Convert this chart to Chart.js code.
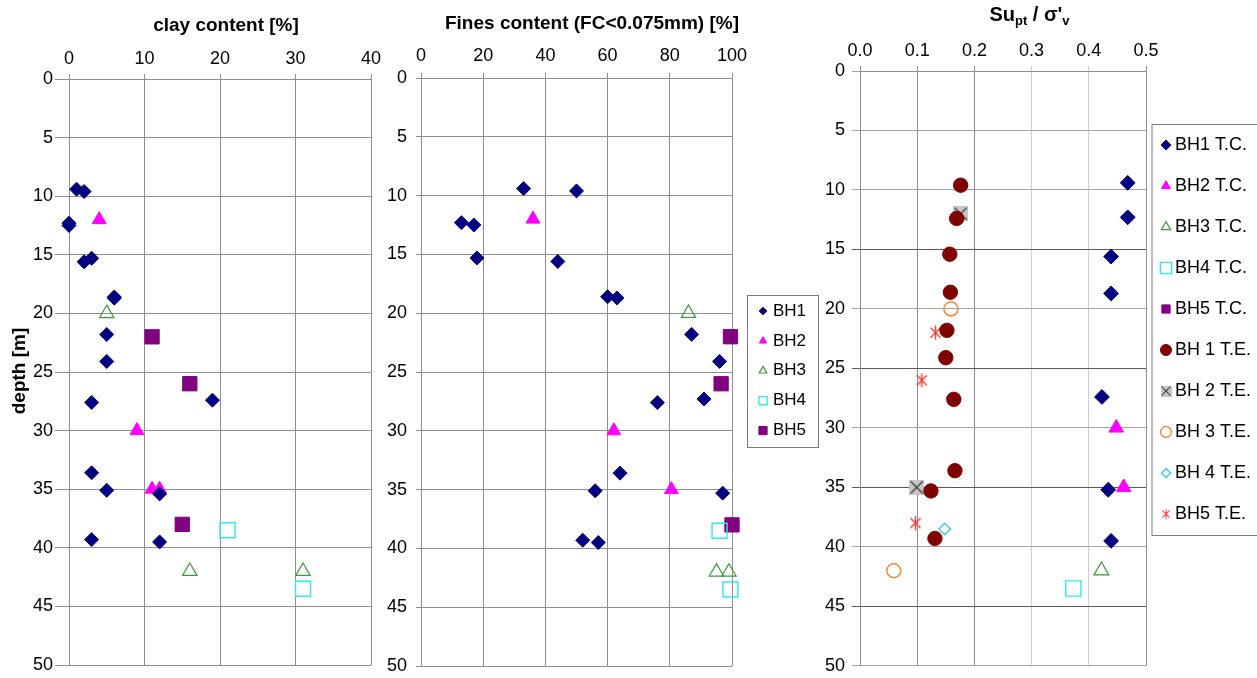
<!DOCTYPE html>
<html>
<head>
<meta charset="utf-8">
<title>Soil profiles with depth</title>
<script src="https://cdn.jsdelivr.net/npm/chart.js@4.4.1/dist/chart.umd.min.js"></script>
<style>
  html, body { margin: 0; padding: 0; background: #fff; }
  body { width: 1257px; height: 678px; position: relative; overflow: hidden; }
  canvas { position: absolute; top: 0; }
</style>
</head>
<body>
<canvas id="clay" width="400" height="678" style="left:0px"></canvas>
<canvas id="fines" width="460" height="678" style="left:375px"></canvas>
<canvas id="su" width="442" height="678" style="left:815px"></canvas>
<script>
// ---------- borehole data: value and depth [m] ----------
// clay content [%]
const clayBH1      = [1, 2, 0, 0, 2, 3, 6, 6, 5, 5, 3, 19, 3, 5, 12, 3, 12];
const clayBH1Depth = [9.4, 9.6, 12.3, 12.5, 15.6, 15.3, 18.6, 18.7, 21.8, 24.1, 27.6, 27.4, 33.6, 35.1, 35.4, 39.3, 39.5];
const clayBH2      = [4, 9, 11, 12];
const clayBH2Depth = [12, 30, 35, 35];
const clayBH3      = [5, 16, 31];
const clayBH3Depth = [20, 42, 42];
const clayBH4      = [21, 31];
const clayBH4Depth = [38.5, 43.5];
const clayBH5      = [11, 16, 15];
const clayBH5Depth = [22, 26, 38];

// fines content FC<0.075mm [%]
const finesBH1      = [33, 50, 13, 17, 18, 44, 60, 63, 87, 96, 76, 91, 64, 56, 97, 52, 57];
const finesBH1Depth = [9.4, 9.6, 12.3, 12.5, 15.3, 15.6, 18.6, 18.7, 21.8, 24.1, 27.6, 27.3, 33.6, 35.1, 35.3, 39.3, 39.5];
const finesBH2      = [36, 62, 80.5];
const finesBH2Depth = [12, 30, 35];
const finesBH3      = [86, 95, 99];
const finesBH3Depth = [20, 42, 42];
const finesBH4      = [96, 99.5];
const finesBH4Depth = [38.5, 43.5];
const finesBH5      = [99.5, 96.5, 100];
const finesBH5Depth = [22, 26, 38];

// normalised undrained strength Su_pt / sigma'_v
const suBH1TC      = [0.468, 0.468, 0.439, 0.439, 0.423, 0.434, 0.439];
const suBH1TCDepth = [9.4, 12.3, 15.6, 18.7, 27.4, 35.2, 39.5];
const suBH2TC      = [0.448, 0.461];
const suBH2TCDepth = [30, 35];
const suBH3TC      = [0.422];
const suBH3TCDepth = [42];
const suBH4TC      = [0.373];
const suBH4TCDepth = [43.5];
const suBH5TC      = [];
const suBH5TCDepth = [];
const suBH1TE      = [0.176, 0.169, 0.157, 0.158, 0.152, 0.150, 0.164, 0.166, 0.124, 0.131];
const suBH1TEDepth = [9.6, 12.4, 15.4, 18.6, 21.8, 24.1, 27.6, 33.6, 35.3, 39.3];
const suBH2TE      = [0.176, 0.099];
const suBH2TEDepth = [12, 35];
const suBH3TE      = [0.159, 0.059];
const suBH3TEDepth = [20, 42];
const suBH4TE      = [0.148];
const suBH4TEDepth = [38.5];
const suBH5TE      = [0.132, 0.108, 0.097];
const suBH5TEDepth = [22, 26, 38];

// series names
const boreholeNames = ['BH1', 'BH2', 'BH3', 'BH4', 'BH5'];
const suNames = ['BH1 T.C.', 'BH2 T.C.', 'BH3 T.C.', 'BH4 T.C.', 'BH5 T.C.',
                 'BH 1 T.E.', 'BH 2 T.E.', 'BH 3 T.E.', 'BH 4 T.E.', 'BH5 T.E.'];

// ---------- drawing ----------
const FONT = '"Liberation Sans", Arial, Helvetica, sans-serif';
Chart.defaults.font.family = FONT;
Chart.defaults.font.size = 18;
Chart.defaults.color = '#000';

const GRID = '#8f8f8f';
const pts = (xs, ys) => xs.map((v, i) => ({ x: v, y: ys[i] }));

// grey square with a cross
function makeCrossBox(size) {
  const c = document.createElement('canvas');
  c.width = c.height = size;
  const g = c.getContext('2d');
  g.fillStyle = '#c6c6c6';
  g.fillRect(0, 0, size, size);
  g.strokeStyle = '#3c3c3c';
  g.lineWidth = 1.3;
  g.beginPath();
  g.moveTo(1.5, 1.5); g.lineTo(size - 1.5, size - 1.5);
  g.moveTo(size - 1.5, 1.5); g.lineTo(1.5, size - 1.5);
  g.stroke();
  return c;
}
// thin asterisk marker
function makeAsterisk(size, color) {
  const c = document.createElement('canvas');
  c.width = c.height = size;
  const g = c.getContext('2d');
  const m = size / 2, a = size / 2 - 0.5, d = a * 0.72;
  g.strokeStyle = color;
  g.lineWidth = 1.4;
  g.beginPath();
  g.moveTo(m, m - a); g.lineTo(m, m + a);
  g.moveTo(m - d, m - d); g.lineTo(m + d, m + d);
  g.moveTo(m + d, m - d); g.lineTo(m - d, m + d);
  g.stroke();
  return c;
}

function series(label, xs, ys, style) {
  return Object.assign({
    label: label,
    data: pts(xs, ys),
    showLine: false,
    clip: false,
    borderWidth: 1,
    pointHoverRadius: 0
  }, style);
}
function filled(color, shape, r, lr) {
  return { pointStyle: shape, pointRadius: r, backgroundColor: color, borderColor: color,
           pointBackgroundColor: color, pointBorderColor: color, pointBorderWidth: 1, legendRadius: lr };
}
function hollow(color, shape, r, lr, bw) {
  return { pointStyle: shape, pointRadius: r, backgroundColor: 'rgba(0,0,0,0)', borderColor: color,
           pointBackgroundColor: 'rgba(0,0,0,0)', pointBorderColor: color, pointBorderWidth: bw || 1.3,
           legendRadius: lr };
}
function image(img, lsize) {
  return { pointStyle: img, pointRadius: 7, backgroundColor: '#c6c6c6', borderColor: '#3c3c3c',
           legendImageSize: lsize };
}

// simple marker painter for the boxed legends
function paintMarker(ctx, ds, x, y) {
  const st = ds.pointStyle;
  if (st instanceof HTMLCanvasElement) {
    const s = ds.legendImageSize;
    ctx.drawImage(st, x - s / 2, y - s / 2, s, s);
    return;
  }
  const r = ds.legendRadius;
  ctx.beginPath();
  if (st === 'rectRot') {
    ctx.moveTo(x - r, y); ctx.lineTo(x, y - r); ctx.lineTo(x + r, y); ctx.lineTo(x, y + r); ctx.closePath();
  } else if (st === 'triangle') {
    const h = r * Math.sqrt(3) / 2;
    ctx.moveTo(x, y - r); ctx.lineTo(x + h, y + r / 2); ctx.lineTo(x - h, y + r / 2); ctx.closePath();
  } else if (st === 'rect') {
    const s = r * Math.SQRT1_2;
    ctx.rect(x - s, y - s, 2 * s, 2 * s);
  } else {
    ctx.arc(x, y, r, 0, Math.PI * 2);
  }
  ctx.fillStyle = ds.pointBackgroundColor;
  ctx.fill();
  ctx.strokeStyle = ds.pointBorderColor;
  ctx.lineWidth = ds.pointBorderWidth || 1;
  ctx.stroke();
}

function boxLegend(cfg) {
  return {
    id: 'boxLegend',
    afterDraw(chart) {
      const ctx = chart.ctx;
      ctx.save();
      ctx.fillStyle = '#fff';
      ctx.fillRect(cfg.x, cfg.y, cfg.w, cfg.h);
      ctx.strokeStyle = '#7a7a7a';
      ctx.lineWidth = 1;
      ctx.strokeRect(cfg.x + 0.5, cfg.y + 0.5, cfg.w, cfg.h);
      ctx.font = cfg.fontSize + 'px ' + FONT;
      ctx.textBaseline = 'middle';
      ctx.textAlign = 'left';
      chart.data.datasets.forEach((ds, i) => {
        const y = cfg.first + i * cfg.step;
        paintMarker(ctx, ds, cfg.markerX, y);
        ctx.fillStyle = '#000';
        ctx.fillText(ds.label, cfg.textX, y);
      });
      ctx.restore();
    }
  };
}

// axis titles, drawn as runs of text (allows sub-scripts)
function titles(items) {
  return {
    id: 'panelTitles',
    afterDraw(chart) {
      const ctx = chart.ctx;
      items.forEach(it => {
        ctx.save();
        ctx.translate(it.x, it.y);
        if (it.rotate) ctx.rotate(it.rotate);
        ctx.fillStyle = '#000';
        ctx.textBaseline = 'alphabetic';
        ctx.textAlign = 'left';
        let total = 0;
        it.parts.forEach(p => { ctx.font = p.font; total += ctx.measureText(p.text).width; });
        let cx = -total / 2;
        it.parts.forEach(p => {
          ctx.font = p.font;
          ctx.fillText(p.text, cx, p.dy || 0);
          cx += ctx.measureText(p.text).width;
        });
        ctx.restore();
      });
    }
  };
}

function panelOptions(p) {
  return {
    responsive: false,
    animation: false,
    devicePixelRatio: 1,
    events: [],
    layout: { padding: { top: 0, left: 0, right: p.padRight, bottom: p.padBottom } },
    plugins: { legend: { display: false }, tooltip: { enabled: false } },
    scales: {
      x: {
        type: 'linear', position: 'top', min: p.xMin, max: p.xMax,
        ticks: { stepSize: p.xStep, padding: p.xTickPad, autoSkip: false, maxRotation: 0,
                 callback: p.xFormat, font: { size: 18 }, color: '#000' },
        grid: { color: p.xGridColor || GRID, lineWidth: 1, tickLength: 5 },
        border: { color: GRID },
        afterFit(s) { s.height = p.xAxisHeight; s.paddingLeft = 0; s.paddingRight = 0; }
      },
      y: {
        type: 'linear', reverse: true, min: 0, max: 50,
        ticks: { stepSize: 5, padding: p.yTickPad, autoSkip: false, font: { size: 18 }, color: '#000' },
        grid: { color: p.yGridColor || GRID, lineWidth: 1, tickLength: p.yTickLen },
        border: { color: GRID },
        afterFit(s) { s.width = p.yAxisWidth; s.paddingTop = 0; s.paddingBottom = 0; }
      }
    }
  };
}

const NAVY = '#000080', MAGENTA = '#ff00ff', GREEN = '#3a9a3a', CYAN = '#2eeaea', PURPLE = '#800080';
const BOLD19 = 'bold 19px ' + FONT;

function boreholeSets(vals) {
  return [
    series(boreholeNames[0], vals[0][0], vals[0][1], filled(NAVY, 'rectRot', 7, 3.8)),
    series(boreholeNames[1], vals[1][0], vals[1][1], filled(MAGENTA, 'triangle', 8, 4.2)),
    series(boreholeNames[2], vals[2][0], vals[2][1], hollow(GREEN, 'triangle', 8.3, 4.4, 1.2)),
    series(boreholeNames[3], vals[3][0], vals[3][1], hollow(CYAN, 'rect', 10.6, 5.8, 1.4)),
    series(boreholeNames[4], vals[4][0], vals[4][1], filled(PURPLE, 'rect', 10.1, 5.8))
  ];
}

// clay content panel
new Chart(document.getElementById('clay'), {
  type: 'scatter',
  data: { datasets: boreholeSets([
    [clayBH1, clayBH1Depth], [clayBH2, clayBH2Depth], [clayBH3, clayBH3Depth],
    [clayBH4, clayBH4Depth], [clayBH5, clayBH5Depth]]) },
  options: panelOptions({ xMin: 0, xMax: 40, xStep: 10, xTickPad: 4, xAxisHeight: 79,
    yAxisWidth: 69, yTickLen: 14, yTickPad: 2, padRight: 29, padBottom: 13 }),
  plugins: [titles([
    { x: 226, y: 31, parts: [{ text: 'clay content [%]', font: BOLD19 }] },
    { x: 25, y: 371, rotate: -Math.PI / 2, parts: [{ text: 'depth [m]', font: BOLD19 }] }
  ])]
});

// fines content panel
new Chart(document.getElementById('fines'), {
  type: 'scatter',
  data: { datasets: boreholeSets([
    [finesBH1, finesBH1Depth], [finesBH2, finesBH2Depth], [finesBH3, finesBH3Depth],
    [finesBH4, finesBH4Depth], [finesBH5, finesBH5Depth]]) },
  options: panelOptions({ xMin: 0, xMax: 100, xStep: 20, xTickPad: 6, xAxisHeight: 78,
    yAxisWidth: 46, yTickLen: 5, yTickPad: 9, padRight: 103, padBottom: 9 }),
  plugins: [
    titles([{ x: 217, y: 28.5, parts: [{ text: 'Fines content (FC<0.075mm) [%]', font: BOLD19 }] }]),
    boxLegend({ x: 372, y: 295, w: 71, h: 152, markerX: 388, textX: 398, first: 311, step: 29.9, fontSize: 17 })
  ]
});

// strength ratio panel
const xGridSu = ctx => {
  const v = ctx.tick ? Math.round(ctx.tick.value * 10) : 0;
  return (v === 3 || v === 4) ? '#cdcdcd' : GRID;
};
const yGridSu = ctx => {
  const v = ctx.tick ? ctx.tick.value : 0;
  return (v === 15 || v === 25 || v === 35 || v === 45) ? '#5a5a5a' : '#a6a6a6';
};
new Chart(document.getElementById('su'), {
  type: 'scatter',
  data: { datasets: [
    series(suNames[0], suBH1TC, suBH1TCDepth, filled(NAVY, 'rectRot', 7.4, 5)),
    series(suNames[1], suBH2TC, suBH2TCDepth, filled(MAGENTA, 'triangle', 8.4, 5.2)),
    series(suNames[2], suBH3TC, suBH3TCDepth, hollow(GREEN, 'triangle', 8.6, 5.4, 1.2)),
    series(suNames[3], suBH4TC, suBH4TCDepth, hollow(CYAN, 'rect', 10.8, 8, 1.4)),
    series(suNames[4], suBH5TC, suBH5TCDepth, filled(PURPLE, 'rect', 10, 5.8)),
    series(suNames[5], suBH1TE, suBH1TEDepth, filled('#800000', 'circle', 7.2, 5.5)),
    series(suNames[6], suBH2TE, suBH2TEDepth, image(makeCrossBox(15), 11)),
    series(suNames[7], suBH3TE, suBH3TEDepth, hollow('#f5883c', 'circle', 7, 5.4, 1.5)),
    series(suNames[8], suBH4TE, suBH4TEDepth, hollow('#3cc8ff', 'rectRot', 5.8, 4.6, 1.4)),
    series(suNames[9], suBH5TE, suBH5TEDepth, image(makeAsterisk(15, '#ff3838'), 11))
  ] },
  options: panelOptions({ xMin: 0, xMax: 0.5, xStep: 0.1, xTickPad: 4, xAxisHeight: 71,
    xFormat: v => Number(v).toFixed(1), xGridColor: xGridSu, yGridColor: yGridSu,
    yAxisWidth: 45, yTickLen: 8, yTickPad: 7, padRight: 111, padBottom: 7 }),
  plugins: [
    titles([{ x: 214.5, y: 21, parts: [
      { text: 'Su', font: 'bold 20px ' + FONT },
      { text: 'pt', font: 'bold 13px ' + FONT, dy: 4 },
      { text: ' / σ\'', font: 'bold 20px ' + FONT },
      { text: 'v', font: 'bold 13px ' + FONT, dy: 4 }
    ] }]),
    boxLegend({ x: 336.5, y: 124, w: 200, h: 411, markerX: 351, textX: 360, first: 145, step: 41, fontSize: 18 })
  ]
});
</script>
</body>
</html>
